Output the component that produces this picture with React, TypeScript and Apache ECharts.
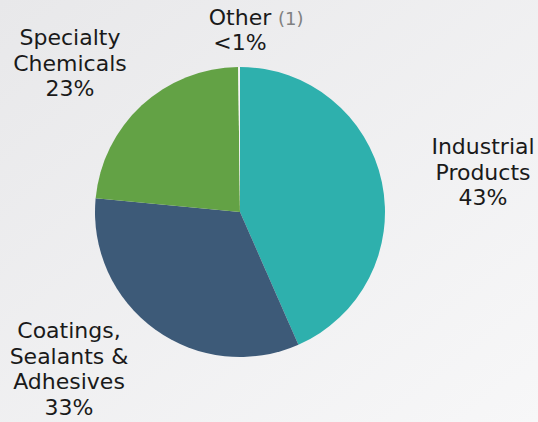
import React, { useEffect, useRef } from "react";
import * as echarts from "echarts";

const categories = ["Industrial\nProducts", "Coatings,\nSealants &\nAdhesives", "Specialty\nChemicals", "Other"];
const values = [43.4, 33.1, 23.3, 0.2];
const percentLabels = ["43%", "33%", "23%", "<1%"];
const colors = ["#2eb0ad", "#3d5a78", "#63a245", "#f4f4f4"];
const labelPos = [
  [483, 172],
  [69, 369],
  [70, 63],
  [240, 30],
];

export default function App() {
  const ref = useRef<HTMLDivElement>(null);
  useEffect(() => {
    const chart = echarts.init(ref.current!, undefined, { renderer: "svg" });
    chart.setOption({
      animation: false,
      backgroundColor: new echarts.graphic.LinearGradient(0, 0, 1, 1, [
        { offset: 0, color: "#e8e8ea" },
        { offset: 1, color: "#f7f7f8" },
      ]),
      graphic: [
        {
          type: "text",
          left: 278,
          top: 9,
          style: {
            text: "(1)",
            fill: "#808080",
            fontSize: 18,
            fontFamily: "DejaVu Sans",
          },
        },
      ],
      series: [
        {
          type: "pie",
          center: [240, 212],
          radius: [0, 145],
          startAngle: 90,
          clockwise: true,
          avoidLabelOverlap: false,
          itemStyle: { borderWidth: 0 },
          label: {
            show: true,
            position: "outside",
            fontFamily: "DejaVu Sans",
            fontSize: 22,
            lineHeight: 25.5,
            color: "#1a1a1a",
            align: "center",
            formatter: (p: any) => `${categories[p.dataIndex]}\n${percentLabels[p.dataIndex]}`,
          },
          labelLine: { show: false },
          labelLayout: (p: any) => ({
            x: labelPos[p.dataIndex][0],
            y: labelPos[p.dataIndex][1],
            align: "center",
            verticalAlign: "middle",
          }),
          data: values.map((v, i) => ({
            value: v,
            name: categories[i],
            itemStyle: { color: colors[i] },
          })),
        },
      ],
    });
    return () => chart.dispose();
  }, []);
  return (
    <div
      ref={ref}
      style={{ position: "absolute", left: 0, top: 0, width: 538, height: 422 }}
    />
  );
}
